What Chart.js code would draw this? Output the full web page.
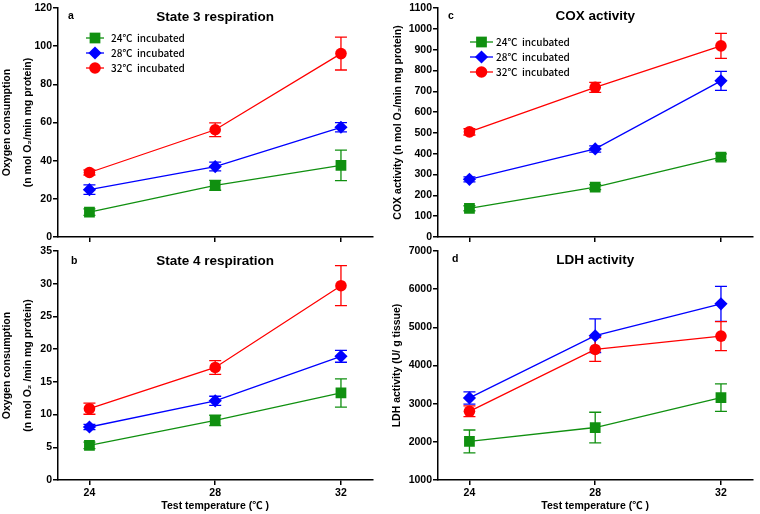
<!DOCTYPE html>
<html>
<head>
<meta charset="utf-8">
<script src="https://cdn.jsdelivr.net/npm/chart.js@4.4.1/dist/chart.umd.min.js"></script>
<style>
  body { margin: 0; background: #fff; width: 760px; height: 514px; position: relative; overflow: hidden; }
  canvas { position: absolute; }
</style>
</head>
<body>
<canvas id="pa" width="380" height="250" style="left:0;top:0"></canvas>
<canvas id="pb" width="380" height="274" style="left:0;top:240px"></canvas>
<canvas id="pc" width="380" height="250" style="left:380px;top:0"></canvas>
<canvas id="pd" width="380" height="274" style="left:380px;top:240px"></canvas>
<script>
// test temperatures (x) and group names
const temps = [24, 28, 32];
const groups = ['24℃  incubated', '28℃  incubated', '32℃  incubated'];

// a - state 3 respiration
const st3_24 = [13.0, 27.1, 37.5];
const st3_24err = [1.7, 2.6, 8.0];
const st3_28 = [24.8, 36.9, 57.5];
const st3_28err = [2.5, 2.3, 2.4];
const st3_32 = [33.8, 56.2, 96.1];
const st3_32err = [1.3, 3.6, 8.6];

// b - state 4 respiration
const st4_24 = [5.3, 9.1, 13.3];
const st4_24err = [0.5, 0.8, 2.15];
const st4_28 = [8.1, 12.1, 18.9];
const st4_28err = [0.4, 0.7, 0.9];
const st4_32 = [10.9, 17.2, 29.7];
const st4_32err = [0.85, 1.05, 3.05];

// c - COX activity
const cox_24 = [138, 240, 384];
const cox_24err = [12, 12, 15];
const cox_28 = [277, 423, 750];
const cox_28err = [12, 15, 46];
const cox_32 = [505, 719, 918];
const cox_32err = [15, 24, 60];

// d - LDH activity
const ldh_24 = [2010, 2375, 3160];
const ldh_24err = [300, 400, 360];
const ldh_28 = [3150, 4780, 5615];
const ldh_28err = [160, 440, 460];
const ldh_32 = [2800, 4420, 4770];
const ldh_32err = [140, 310, 380];

const colors = ['#109010', '#0000ff', '#ff0000'];
const styles = ['rect', 'rectRot', 'circle'];
const radii = [7.6, 6.6, 5.8];
const FONT = "'Liberation Sans', Arial, 'Noto Sans CJK KR', sans-serif";

function drawMarker(ctx, style, r, x, y, color) {
  ctx.fillStyle = color;
  ctx.beginPath();
  if (style === 'rect') {
    const s = r * Math.SQRT1_2;
    ctx.rect(x - s, y - s, 2 * s, 2 * s);
  } else if (style === 'rectRot') {
    ctx.moveTo(x, y - r); ctx.lineTo(x + r, y); ctx.lineTo(x, y + r); ctx.lineTo(x - r, y);
    ctx.closePath();
  } else {
    ctx.arc(x, y, r, 0, Math.PI * 2);
  }
  ctx.fill();
}

// error bars with caps, under the markers
const errorBars = {
  id: 'errorBars',
  beforeDatasetsDraw(chart) {
    const ctx = chart.ctx;
    const xs = chart.scales.x, ys = chart.scales.y;
    ctx.save();
    chart.data.datasets.forEach(function (ds) {
      ctx.strokeStyle = ds.borderColor;
      ctx.lineWidth = 1.3;
      ds.data.forEach(function (p, j) {
        const e = ds.errors[j];
        const x = xs.getPixelForValue(p.x);
        const y1 = ys.getPixelForValue(p.y + e);
        const y2 = ys.getPixelForValue(p.y - e);
        ctx.beginPath();
        ctx.moveTo(x, y1); ctx.lineTo(x, y2);
        ctx.moveTo(x - 6, y1); ctx.lineTo(x + 6, y1);
        ctx.moveTo(x - 6, y2); ctx.lineTo(x + 6, y2);
        ctx.stroke();
      });
    });
    ctx.restore();
  }
};

// panel letter, title and in-plot legend
const panelText = {
  id: 'panelText',
  afterDraw(chart, args, o) {
    const ctx = chart.ctx;
    const ca = chart.chartArea;
    ctx.save();
    ctx.fillStyle = '#000';
    ctx.textBaseline = 'middle';
    ctx.font = 'bold 10.5px ' + FONT;
    ctx.textAlign = 'left';
    ctx.fillText(o.letter, ca.left + o.letterX, ca.top + o.letterY);
    ctx.font = 'bold 13.5px ' + FONT;
    ctx.textAlign = 'center';
    ctx.fillText(o.title, chart.scales.x.getPixelForValue(28), ca.top + o.titleY);
    if (o.legend) {
      const L = o.legend;
      ctx.textAlign = 'left';
      ctx.font = "500 10px 'Noto Sans CJK KR', sans-serif";
      chart.data.datasets.forEach(function (ds, i) {
        const y = ca.top + L.y + i * 15;
        ctx.strokeStyle = ds.borderColor;
        ctx.lineWidth = 1.3;
        ctx.beginPath();
        ctx.moveTo(ca.left + L.x0, y); ctx.lineTo(ca.left + L.x1, y);
        ctx.stroke();
        drawMarker(ctx, ds.pointStyle, ds.pointRadius, ca.left + (L.x0 + L.x1) / 2, y, ds.borderColor);
        ctx.fillStyle = '#000';
        ctx.fillText(ds.label, ca.left + L.tx, y);
      });
    }
    ctx.restore();
  }
};

function makePanel(id, series, errs, y, text, bottom) {
  const datasets = series.map(function (vals, i) {
    return {
      label: groups[i],
      data: vals.map(function (v, j) { return { x: temps[j], y: v }; }),
      errors: errs[i],
      borderColor: colors[i],
      backgroundColor: colors[i],
      borderWidth: 1.3,
      pointStyle: styles[i],
      pointRadius: radii[i],
      pointBorderWidth: 0,
      pointHoverRadius: radii[i]
    };
  });
  const axisGrid = { display: true, drawOnChartArea: false, drawTicks: true, tickLength: 5, color: '#000', lineWidth: 1.5 };
  const axisBorder = { display: true, color: '#000', width: 1.5 };
  const tickFont = { family: FONT, size: 10.5, weight: 'bold' };
  return new Chart(document.getElementById(id), {
    type: 'line',
    data: { datasets: datasets },
    plugins: [errorBars, panelText],
    options: {
      responsive: false,
      animation: false,
      events: [],
      layout: { padding: { top: bottom ? 11 : 8, right: 3, left: 0, bottom: 0 } },
      plugins: {
        legend: { display: false },
        tooltip: { enabled: false },
        panelText: text
      },
      scales: {
        x: {
          type: 'linear', min: 23, max: 33,
          grid: axisGrid, border: axisBorder,
          afterBuildTicks: function (s) { s.ticks = temps.map(function (v) { return { value: v }; }); },
          afterFit: function (s) {
            s.height = bottom ? 34 : 13;
            s.paddingLeft = 0; s.paddingRight = 0;
          },
          ticks: { display: bottom, color: '#000', font: tickFont, padding: 1.5, maxRotation: 0,
                   callback: function (v) { return String(v); } },
          title: {
            display: bottom, text: 'Test temperature (℃ )', color: '#000',
            font: tickFont, padding: { top: 0, bottom: 1.7 }
          }
        },
        y: {
          min: y.min, max: y.max,
          grid: axisGrid, border: axisBorder,
          afterFit: function (s) {
            s.width = 58;
            s.paddingTop = 0; s.paddingBottom = 0;
          },
          ticks: { stepSize: y.step, color: '#000', font: tickFont, padding: 1,
                   callback: function (v) { return String(v); } },
          title: {
            display: true, text: y.title, color: '#000',
            font: { family: FONT, size: 10.5, weight: 'bold', lineHeight: y.lh },
            padding: { top: y.tpad, bottom: 0 }
          }
        }
      }
    }
  });
}

const twoLine = ['Oxygen consumption', '(n mol O₂/min mg protein)'];

makePanel('pa', [st3_24, st3_28, st3_32], [st3_24err, st3_28err, st3_32err],
  { min: 0, max: 120, step: 20, title: twoLine, lh: 2, tpad: -3.5 },
  { letter: 'a', letterX: 10, letterY: 8, title: 'State 3 respiration', titleY: 9,
    legend: { x0: 28, x1: 46, tx: 53, y: 30 } }, false);

makePanel('pb', [st4_24, st4_28, st4_32], [st4_24err, st4_28err, st4_32err],
  { min: 0, max: 35, step: 5, title: ['Oxygen consumption', '(n mol O₂ /min mg protein)'], lh: 2, tpad: -3.5 },
  { letter: 'b', letterX: 13, letterY: 10, title: 'State 4 respiration', titleY: 10 }, true);

makePanel('pc', [cox_24, cox_28, cox_32], [cox_24err, cox_28err, cox_32err],
  { min: 0, max: 1100, step: 100, title: 'COX activity (n mol O₂/min mg protein)', lh: 1.2, tpad: 11.7 },
  { letter: 'c', letterX: 10, letterY: 8, title: 'COX activity', titleY: 8,
    legend: { x0: 32, x1: 55, tx: 58, y: 34 } }, false);

makePanel('pd', [ldh_24, ldh_28, ldh_32], [ldh_24err, ldh_28err, ldh_32err],
  { min: 1000, max: 7000, step: 1000, title: 'LDH activity (U/ g tissue)', lh: 1.2, tpad: 10.7 },
  { letter: 'd', letterX: 14, letterY: 8, title: 'LDH activity', titleY: 9 }, true);
</script>
</body>
</html>
